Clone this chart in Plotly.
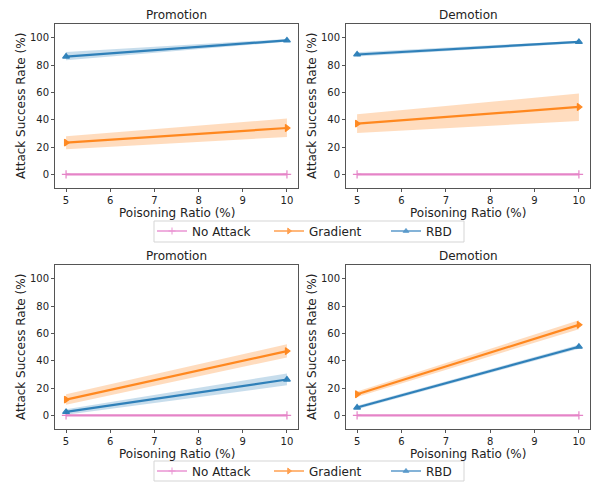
import plotly.graph_objects as go

ratios = [5, 10]
methods = ["No Attack", "Gradient", "RBD"]
panel_titles = ["Promotion", "Demotion", "Promotion", "Demotion"]
x_ticks = [5, 6, 7, 8, 9, 10]
y_ticks = [0, 20, 40, 60, 80, 100]
x_label = "Poisoning Ratio (%)"
y_label = "Attack Success Rate (%)"

# mean, low, high per panel per method
no_attack_mean = [[0, 0], [0, 0], [0, 0], [0, 0]]
gradient_mean = [[23.2, 33.9], [37.1, 49.3], [11.5, 47.0], [15.4, 66.2]]
gradient_low = [[18.3, 27.3], [30.3, 39.1], [7.8, 42.4], [13.5, 63.0]]
gradient_high = [[27.8, 40.8], [44.0, 59.1], [15.4, 52.0], [17.5, 69.5]]
rbd_mean = [[86.2, 98.0], [87.7, 96.9], [2.5, 26.2], [5.7, 50.2]]
rbd_low = [[83.5, 97.0], [86.2, 96.0], [0.5, 22.0], [4.5, 48.7]]
rbd_high = [[89.5, 99.0], [89.3, 97.8], [4.5, 30.7], [7.0, 51.7]]

colors = {"No Attack": "#e377c2", "Gradient": "#ff7f0e", "RBD": "#1f77b4"}
legend_colors = {"No Attack": "#ea95d3", "Gradient": "#ffa050", "RBD": "#5b9acb"}
fills = {"No Attack": "rgba(227,119,194,0.25)", "Gradient": "rgba(255,127,14,0.27)",
         "RBD": "rgba(31,119,180,0.25)"}
symbols = {"No Attack": "cross-thin", "Gradient": "triangle-right", "RBD": "triangle-up"}

W, H = 592, 482
def px_x(a, b):
    return [a / W, b / W]
def px_y(top, bottom):
    return [1 - bottom / H, 1 - top / H]

x_domains = [px_x(55, 298), px_x(346, 590), px_x(55, 298), px_x(346, 590)]
y_domains = [px_y(24, 188), px_y(24, 188), px_y(265, 429), px_y(265, 429)]

fig = go.Figure()
data = {
    "No Attack": (no_attack_mean, no_attack_mean, no_attack_mean),
    "Gradient": (gradient_mean, gradient_low, gradient_high),
    "RBD": (rbd_mean, rbd_low, rbd_high),
}

for p in range(4):
    ax = "" if p == 0 else str(p + 1)
    for m in methods:
        mean, low, high = data[m]
        fig.add_trace(go.Scatter(
            x=ratios + ratios[::-1], y=low[p] + high[p][::-1],
            fill="toself", fillcolor=fills[m], line=dict(width=0),
            mode="lines", hoverinfo="skip", showlegend=False,
            xaxis="x" + ax, yaxis="y" + ax))
    for m in methods:
        mean, low, high = data[m]
        fig.add_trace(go.Scatter(
            x=ratios, y=mean[p], name=m, mode="lines+markers",
            line=dict(color=colors[m], width=2.2), opacity=0.9,
            marker=dict(symbol=symbols[m], size=6, color=colors[m],
                        line=dict(color=colors[m], width=1.2)),
            showlegend=False,
            xaxis="x" + ax, yaxis="y" + ax))

# legend entries (small markers, as in the reference legend)
for leg in ("legend", "legend2"):
    for m in methods:
        fig.add_trace(go.Scatter(
            x=[None], y=[None], name=m, mode="lines+markers", legend=leg,
            line=dict(color=legend_colors[m], width=1.6),
            marker=dict(symbol=symbols[m], size=5, color=legend_colors[m],
                        line=dict(color=legend_colors[m], width=1)),
            showlegend=True))

axis_common = dict(showline=True, mirror=True, linecolor="#555", linewidth=1,
                   ticks="outside", ticklen=3, tickcolor="#555", showgrid=False,
                   zeroline=False, automargin=False,
                   tickfont=dict(size=10, color="#222"))
layout = dict(
    width=W, height=H, margin=dict(l=0, r=0, t=0, b=0, autoexpand=False),
    paper_bgcolor="white", plot_bgcolor="white",
    font=dict(family="DejaVu Sans", color="#222"),
    showlegend=True,
)
annotations = []
x_title_y = [213, 213, 454, 454]
y_title_x = [21, 312, 21, 312]
for p in range(4):
    ax = "" if p == 0 else str(p + 1)
    layout["xaxis" + ax] = dict(axis_common, domain=x_domains[p], range=[4.75, 10.25],
                                tickvals=x_ticks, anchor="y" + ax)
    layout["yaxis" + ax] = dict(axis_common, domain=y_domains[p], range=[-10, 110],
                                tickvals=y_ticks, anchor="x" + ax)
    annotations.append(dict(text=panel_titles[p], x=sum(x_domains[p]) / 2, y=y_domains[p][1],
                            xref="paper", yref="paper", xanchor="center", yanchor="bottom",
                            yshift=0, showarrow=False, font=dict(size=12, color="#222")))
    annotations.append(dict(text=x_label, x=sum(x_domains[p]) / 2, y=1 - x_title_y[p] / H,
                            xref="paper", yref="paper", xanchor="center", yanchor="middle",
                            borderpad=0, showarrow=False, font=dict(size=12, color="#222")))
    annotations.append(dict(text=y_label, x=y_title_x[p] / W, y=sum(y_domains[p]) / 2,
                            xref="paper", yref="paper", xanchor="center", yanchor="middle",
                            textangle=-90, showarrow=False, font=dict(size=12, color="#222")))
layout["annotations"] = annotations

shapes = []
for top, bottom in ((221, 242), (461, 481)):
    shapes.append(dict(type="rect", xref="paper", yref="paper",
                       x0=154 / W, x1=464 / W, y0=1 - bottom / H, y1=1 - top / H,
                       line=dict(color="#d5d5d5", width=1), fillcolor="white", layer="below"))
layout["shapes"] = shapes

legend_common = dict(orientation="h", xanchor="left", x=152 / W, yanchor="middle",
                     borderwidth=0, font=dict(size=12, color="#222"),
                     bgcolor="rgba(0,0,0,0)", entrywidth=72, entrywidthmode="pixels")
layout["legend"] = dict(legend_common, y=1 - 231 / H)
layout["legend2"] = dict(legend_common, y=1 - 471 / H)
fig.update_layout(**layout)
fig.write_html("out.html", config={"displayModeBar": False},
               post_script="document.body.style.margin='0';document.body.style.overflow='hidden';")
